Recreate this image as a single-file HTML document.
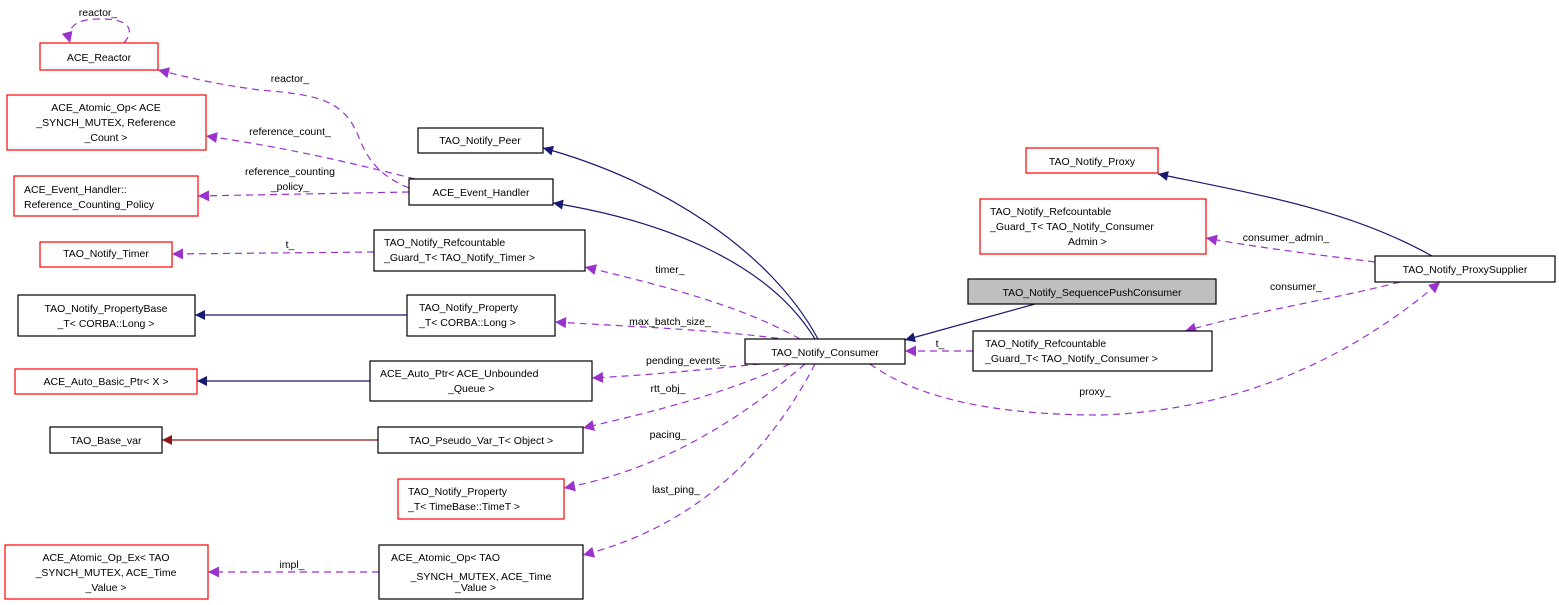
<!DOCTYPE html>
<html><head><meta charset="utf-8"><style>
html,body{margin:0;padding:0;background:#fff;}
svg{display:block;}
text{font-family:"Liberation Sans",sans-serif;font-size:10.5px;fill:#000;}
</style></head><body>
<svg width="1559" height="605" viewBox="0 0 1559 605" xmlns="http://www.w3.org/2000/svg">
<defs>
<marker id="ab" viewBox="0 0 10 10" refX="10" refY="5" markerWidth="12" markerHeight="10" markerUnits="userSpaceOnUse" orient="auto"><path d="M0,0 L10,5 L0,10 z" fill="#191970"/></marker>
<marker id="ar" viewBox="0 0 10 10" refX="10" refY="5" markerWidth="12" markerHeight="10" markerUnits="userSpaceOnUse" orient="auto"><path d="M0,0 L10,5 L0,10 z" fill="#8b1a1a"/></marker>
<marker id="ap" viewBox="0 0 10 10" refX="10" refY="5" markerWidth="14" markerHeight="11" markerUnits="userSpaceOnUse" orient="auto"><path d="M0,0 L10,5 L0,10 z" fill="#9a32cd"/></marker>
</defs>
<g fill="none" stroke="#191970" stroke-width="1.2">
<path d="M818,339 C770,250 660,180 543,148" marker-end="url(#ab)"/>
<path d="M815,339 C770,265 670,222 553,203" marker-end="url(#ab)"/>
<path d="M1035,304 L905,340" marker-end="url(#ab)"/>
<path d="M1432,256 C1350,210 1260,195 1158,174" marker-end="url(#ab)"/>
<path d="M407,315 L195,315" marker-end="url(#ab)"/>
<path d="M370,381 L197,381" marker-end="url(#ab)"/>
</g>
<path d="M378,440 L162,440" stroke="#8b1a1a" stroke-width="1.2" fill="none" marker-end="url(#ar)"/>
<g fill="none" stroke="#9a32cd" stroke-width="1.2" stroke-dasharray="7,5">
<path d="M124,43 C135,30 130,18 98,19 C75,19 66,28 70,43" marker-end="url(#ap)"/>
<path d="M409,188 C385,178 370,165 360,140 C345,100 320,95 260,90 C220,85 190,78 158,70" marker-end="url(#ap)"/>
<path d="M415,179 C360,165 290,148 206,136" marker-end="url(#ap)"/>
<path d="M409,192 L198,196" marker-end="url(#ap)"/>
<path d="M374,252 L172,254" marker-end="url(#ap)"/>
<path d="M800,339 C740,305 660,285 585,267" marker-end="url(#ap)"/>
<path d="M790,340 C720,330 640,327 555,322" marker-end="url(#ap)"/>
<path d="M760,364 C700,370 650,375 592,378" marker-end="url(#ap)"/>
<path d="M790,364 C720,395 660,410 583,428" marker-end="url(#ap)"/>
<path d="M805,364 C740,420 660,470 564,488" marker-end="url(#ap)"/>
<path d="M815,364 C760,470 680,530 583,555" marker-end="url(#ap)"/>
<path d="M379,572 L208,572" marker-end="url(#ap)"/>
<path d="M973,351 L905,351" marker-end="url(#ap)"/>
<path d="M1400,282 C1330,300 1260,310 1185,331" marker-end="url(#ap)"/>
<path d="M1375,262 C1320,255 1260,248 1206,238" marker-end="url(#ap)"/>
<path d="M870,364 C920,400 1000,415 1100,415 C1250,410 1360,350 1440,282" marker-end="url(#ap)"/>
</g>
<g stroke-width="1.2">
<rect x="40" y="43" width="118" height="27" fill="#fff" stroke="#ff0000"/>
<rect x="7" y="95" width="199" height="55" fill="#fff" stroke="#ff0000"/>
<rect x="14" y="176" width="184" height="40" fill="#fff" stroke="#ff0000"/>
<rect x="40" y="242" width="132" height="25" fill="#fff" stroke="#ff0000"/>
<rect x="18" y="295" width="177" height="41" fill="#fff" stroke="#000"/>
<rect x="15" y="369" width="182" height="25" fill="#fff" stroke="#ff0000"/>
<rect x="50" y="427" width="112" height="26" fill="#fff" stroke="#000"/>
<rect x="5" y="545" width="203" height="54" fill="#fff" stroke="#ff0000"/>
<rect x="418" y="128" width="125" height="25" fill="#fff" stroke="#000"/>
<rect x="409" y="179" width="144" height="26" fill="#fff" stroke="#000"/>
<rect x="374" y="230" width="211" height="41" fill="#fff" stroke="#000"/>
<rect x="407" y="295" width="148" height="41" fill="#fff" stroke="#000"/>
<rect x="370" y="361" width="222" height="40" fill="#fff" stroke="#000"/>
<rect x="378" y="427" width="205" height="26" fill="#fff" stroke="#000"/>
<rect x="398" y="479" width="166" height="40" fill="#fff" stroke="#ff0000"/>
<rect x="379" y="545" width="204" height="54" fill="#fff" stroke="#000"/>
<rect x="745" y="339" width="160" height="25" fill="#fff" stroke="#000"/>
<rect x="1026" y="148" width="132" height="25" fill="#fff" stroke="#ff0000"/>
<rect x="980" y="199" width="226" height="55" fill="#fff" stroke="#ff0000"/>
<rect x="968" y="279" width="248" height="25" fill="#bfbfbf" stroke="#000"/>
<rect x="973" y="331" width="239" height="40" fill="#fff" stroke="#000"/>
<rect x="1375" y="256" width="180" height="26" fill="#fff" stroke="#000"/>
</g>
<g text-anchor="middle">
<text x="99" y="61">ACE_Reactor</text>
<text x="106" y="111">ACE_Atomic_Op&lt; ACE</text>
<text x="106" y="126">_SYNCH_MUTEX, Reference</text>
<text x="106" y="141">_Count &gt;</text>
<text x="106" y="193" text-anchor="start" x2="0"></text>
<text x="106" y="257">TAO_Notify_Timer</text>
<text x="106" y="312">TAO_Notify_PropertyBase</text>
<text x="106" y="327">_T&lt; CORBA::Long &gt;</text>
<text x="106" y="385">ACE_Auto_Basic_Ptr&lt; X &gt;</text>
<text x="106" y="444">TAO_Base_var</text>
<text x="106" y="561">ACE_Atomic_Op_Ex&lt; TAO</text>
<text x="106" y="576">_SYNCH_MUTEX, ACE_Time</text>
<text x="106" y="591">_Value &gt;</text>
<text x="480" y="144">TAO_Notify_Peer</text>
<text x="481" y="196">ACE_Event_Handler</text>
<text x="481" y="580">_SYNCH_MUTEX, ACE_Time</text>
<text x="481" y="591" dy="0"></text>
<text x="481" y="444">TAO_Pseudo_Var_T&lt; Object &gt;</text>
<text x="825" y="356">TAO_Notify_Consumer</text>
<text x="1092" y="165">TAO_Notify_Proxy</text>
<text x="1092" y="296">TAO_Notify_SequencePushConsumer</text>
<text x="1465" y="273">TAO_Notify_ProxySupplier</text>
<text x="98" y="16">reactor_</text>
<text x="290" y="82">reactor_</text>
<text x="290" y="135">reference_count_</text>
<text x="290" y="175">reference_counting</text>
<text x="290" y="190">_policy_</text>
<text x="290" y="248">t_</text>
<text x="670" y="273">timer_</text>
<text x="670" y="325">max_batch_size_</text>
<text x="686" y="364">pending_events_</text>
<text x="668" y="392">rtt_obj_</text>
<text x="668" y="438">pacing_</text>
<text x="676" y="493">last_ping_</text>
<text x="292" y="568">impl_</text>
<text x="940" y="347">t_</text>
<text x="1296" y="290">consumer_</text>
<text x="1286" y="241">consumer_admin_</text>
<text x="1095" y="395">proxy_</text>
</g>
<g>
<text x="24" y="193">ACE_Event_Handler::</text>
<text x="24" y="208">Reference_Counting_Policy</text>
<text x="384" y="246">TAO_Notify_Refcountable</text>
<text x="384" y="261">_Guard_T&lt; TAO_Notify_Timer &gt;</text>
<text x="419" y="311">TAO_Notify_Property</text>
<text x="419" y="326">_T&lt; CORBA::Long &gt;</text>
<text x="380" y="377">ACE_Auto_Ptr&lt; ACE_Unbounded</text>
<text x="448" y="392">_Queue &gt;</text>
<text x="408" y="495">TAO_Notify_Property</text>
<text x="408" y="510">_T&lt; TimeBase::TimeT &gt;</text>
<text x="391" y="561">ACE_Atomic_Op&lt; TAO</text>
<text x="455" y="591">_Value &gt;</text>
<text x="990" y="215">TAO_Notify_Refcountable</text>
<text x="990" y="230">_Guard_T&lt; TAO_Notify_Consumer</text>
<text x="1068" y="245">Admin &gt;</text>
<text x="985" y="347">TAO_Notify_Refcountable</text>
<text x="985" y="362">_Guard_T&lt; TAO_Notify_Consumer &gt;</text>
</g>
</svg>
</body></html>
